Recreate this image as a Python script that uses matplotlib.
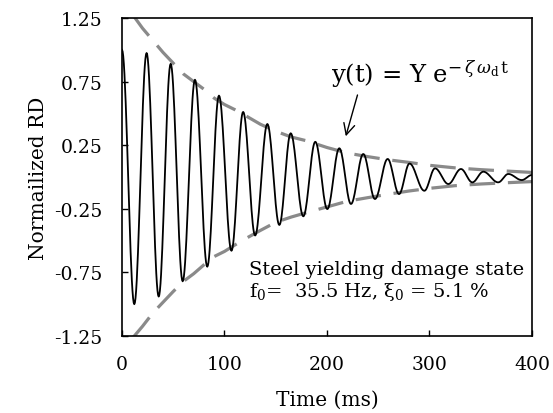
import numpy as np
import matplotlib
matplotlib.use('Agg')
import matplotlib.pyplot as plt

plt.rcParams['font.family'] = 'DejaVu Serif'
plt.rcParams['mathtext.fontset'] = 'dejavuserif'

# peaks / troughs of the free-vibration record (ms, normalized RD)
ext_t = [0, 12, 24, 35.8, 47.5, 59.2, 71.2, 83.2, 94.6, 106.8, 118.2, 129.9,
         141.8, 153.5, 164.6, 176.9, 188.6, 200.3, 212, 223.4, 235.4, 246.8,
         259.2, 270.3, 280.5, 295, 305.4, 318.4, 330.7, 341.8, 352.5, 367,
         376.9, 390, 400]
ext_v = [1.00, -1.00, 0.975, -0.94, 0.89, -0.82, 0.765, -0.705, 0.64, -0.58,
         0.512, -0.46, 0.417, -0.377, 0.344, -0.309, 0.277, -0.252, 0.226,
         -0.212, 0.181, -0.173, 0.142, -0.134, 0.106, -0.108, 0.068, -0.055,
         0.063, -0.042, 0.042, -0.042, 0.024, -0.024, 0.016]

# envelope curves (dashed)
env_t = [11, 20, 30, 40, 50, 60, 70, 80, 90, 100, 110, 120, 135, 150, 165,
         180, 200, 220, 240, 260, 280, 300, 325, 350, 375, 400]
env_up = [1.27, 1.17, 1.075, 0.98, 0.895, 0.81, 0.75, 0.69, 0.62, 0.57, 0.53,
          0.485, 0.415, 0.36, 0.315, 0.285, 0.232, 0.188, 0.16, 0.135, 0.115,
          0.092, 0.072, 0.058, 0.047, 0.036]
env_lo = [-1.26, -1.174, -1.07, -0.985, -0.9, -0.82, -0.76, -0.69, -0.625,
          -0.585, -0.535, -0.487, -0.42, -0.356, -0.315, -0.28, -0.235,
          -0.19, -0.162, -0.135, -0.11, -0.089, -0.068, -0.055, -0.045, -0.036]

xticks = [0, 100, 200, 300, 400]
yticks = [-1.25, -0.75, -0.25, 0.25, 0.75, 1.25]
ytick_labels = ['-1.25', '-0.75', '-0.25', '0.25', '0.75', '1.25']


def smooth_between(tt, vv, n=20):
    # draw each half-cycle between two extrema as a half cosine
    xs, ys = [], []
    for i in range(len(tt) - 1):
        s = np.linspace(0, 1, n, endpoint=False)
        xs.append(tt[i] + (tt[i + 1] - tt[i]) * s)
        ys.append(vv[i] + (vv[i + 1] - vv[i]) * (1 - np.cos(np.pi * s)) / 2)
    xs.append([tt[-1]])
    ys.append([vv[-1]])
    return np.concatenate(xs), np.concatenate(ys)


fig = plt.figure(figsize=(5.53, 4.14), dpi=100)
ax = fig.add_axes([0.2206, 0.186, 0.7414, 0.768])

x, y = smooth_between(ext_t, ext_v)
ax.plot(x, y, color='black', lw=1.3, zorder=3)
ax.plot(env_t, env_up, color='#8a8a8a', lw=2.3, dashes=(8, 4), zorder=2)
ax.plot(env_t, env_lo, color='#8a8a8a', lw=2.3, dashes=(8, 4), zorder=2)

ax.set_xlim(0, 400)
ax.set_ylim(-1.25, 1.25)
ax.set_xticks(xticks)
ax.set_yticks(yticks)
ax.set_yticklabels(ytick_labels)
ax.tick_params(direction='in', length=4.5, width=1, labelsize=13.5, pad=14,
               top=False, right=False)
for sp in ax.spines.values():
    sp.set_linewidth(1.2)

ax.set_xlabel('Time (ms)', fontsize=14.5)
ax.xaxis.set_label_coords(0.5, -0.17)
ax.set_ylabel('Normailized RD', fontsize=14.5)
ax.yaxis.set_label_coords(-0.18, 0.5)

ax.text(204, 0.747,
        r'y(t) = Y e$^{-\,\zeta\,\omega_\mathrm{d}\,\mathrm{t}}$',
        fontsize=17.5, va='baseline', ha='left')
ax.annotate('', xy=(217.6, 0.299), xytext=(230.5, 0.666),
            arrowprops=dict(arrowstyle='->', color='black', lw=1,
                            mutation_scale=20))

ax.text(124, -0.763, 'Steel yielding damage state', fontsize=14,
        va='baseline', ha='left')
ax.text(124, -0.933, 'f$_0$=  35.5 Hz, ξ$_0$ = 5.1 %', fontsize=14,
        va='baseline', ha='left')

fig.savefig('out.png', dpi=100)
